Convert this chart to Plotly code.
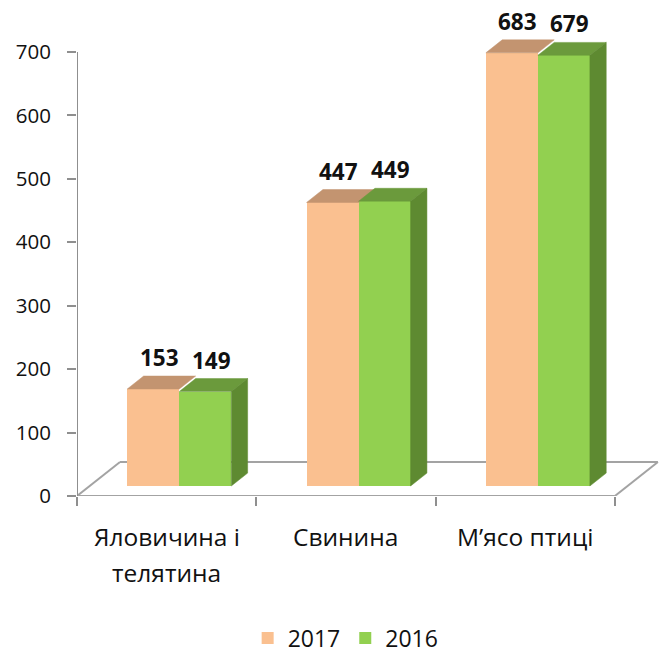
import plotly.graph_objects as go

# ---------------- data ----------------
categories = [["Яловичина і", "телятина"], ["Свинина"], ["М’ясо птиці"]]
series_names = ["2017", "2016"]
values_2017 = [153, 447, 683]
values_2016 = [149, 449, 679]
y_tick_values = [0, 100, 200, 300, 400, 500, 600, 700]

# ---------------- styles ----------------
FRONT = {"2017": "#FAC090", "2016": "#92D050"}
TOP = {"2017": "#C39470", "2016": "#6B9A3C"}
SIDE = {"2017": "#B07E58", "2016": "#5E8A31"}
GRID_GRAY = "#A3A3A3"
AXIS_GRAY = "#8F8F8F"
FONT = "Open Sans"
TXT = "#111111"

# pseudo-3D geometry (in axis units)
PX_X = 179.3            # px per category
PX_Y = 444.0 / 700.0    # px per value unit
FDX = 43.0 / PX_X       # floor depth, x units
FDY = 34.0 / PX_Y       # floor depth, y units
BAR_FRONT = 0.294       # bar front plane (fraction of floor depth)
BAR_DEPTH = 0.38        # bar depth (fraction of floor depth)
BAR_W = 52.0 / PX_X

base = BAR_FRONT * FDY
shift = BAR_FRONT * FDX
ddx = BAR_DEPTH * FDX
ddy = BAR_DEPTH * FDY

fig = go.Figure()

series = [("2017", values_2017, -0.5), ("2016", values_2016, 0.5)]
centers = {}
for name, vals, side in series:
    xs = [i + 0.5 + shift + side * BAR_W for i in range(len(vals))]
    centers[name] = xs
    fig.add_trace(go.Bar(
        x=xs, y=vals, base=[base] * len(vals), width=BAR_W, name=name,
        marker=dict(color=FRONT[name], line=dict(width=0)),
        hoverinfo="skip",
    ))

# top faces (orange then green) and right side faces of the green bars
for name, vals, side in series:
    for xc, v in zip(centers[name], vals):
        xl, xr = xc - BAR_W / 2, xc + BAR_W / 2
        top = base + v
        fig.add_trace(go.Scatter(
            x=[xl, xr, xr + ddx, xl + ddx, xl],
            y=[top, top, top + ddy, top + ddy, top],
            mode="lines", fill="toself", fillcolor=TOP[name],
            line=dict(color=TOP[name], width=0.5),
            showlegend=False, hoverinfo="skip"))
for xc, v in zip(centers["2016"], values_2016):
    xr = xc + BAR_W / 2
    top = base + v
    fig.add_trace(go.Scatter(
        x=[xr, xr + ddx, xr + ddx, xr, xr],
        y=[base, base + ddy, top + ddy, top, base],
        mode="lines", fill="toself", fillcolor=SIDE["2016"],
        line=dict(color=SIDE["2016"], width=0.5),
        showlegend=False, hoverinfo="skip"))

# value labels
for name, vals, side in series:
    for xc, v in zip(centers[name], vals):
        fig.add_annotation(
            x=xc + ddx * 0.35, y=base + v + ddy, text=f"<b>{v}</b>",
            showarrow=False, xanchor="center", yanchor="bottom", yshift=1,
            font=dict(family=FONT, size=22.5, color=TXT))

# category labels (one annotation per line, Excel-like line spacing)
for i, lines in enumerate(categories):
    for j, line in enumerate(lines):
        fig.add_annotation(
            x=i + 0.5, y=0, xref="x", yref="y", text=line, showarrow=False,
            xanchor="center", yanchor="middle", yshift=-40 - 36 * j,
            font=dict(family=FONT, size=24.5, color=TXT))

# floor outline and value axis line
n = len(categories)
floor_lines = [
    (0, 0, n, 0),
    (n, 0, n + FDX, FDY),
    (FDX, FDY, n + FDX, FDY),
    (0, 0, FDX, FDY),
]
for x0, y0, x1, y1 in floor_lines:
    fig.add_shape(type="line", xref="x", yref="y", x0=x0, y0=y0, x1=x1, y1=y1,
                  line=dict(color=GRID_GRAY, width=2), layer="below")
fig.add_shape(type="line", xref="x", yref="y", x0=0, y0=0, x1=0, y1=y_tick_values[-1],
              line=dict(color=AXIS_GRAY, width=2), layer="below")

W, H = 666, 653
left, right_edge, bottom_px, top_m = 77, 662, 496, 5
fig.update_layout(
    width=W, height=H,
    margin=dict(l=left, r=W - right_edge, t=top_m, b=H - bottom_px, pad=0),
    paper_bgcolor="white", plot_bgcolor="white",
    barmode="overlay", bargap=0,
    font=dict(family=FONT, color=TXT),
    showlegend=True,
    legend=dict(orientation="h", xref="container", yref="container",
                x=0.519, xanchor="center", y=1 - 638 / 653, yanchor="middle",
                font=dict(family=FONT, size=23, color=TXT),
                traceorder="normal"),
    xaxis=dict(
        range=[0, (right_edge - left) / PX_X],
        tickmode="array", tickvals=list(range(n + 1)),
        showticklabels=False,
        ticks="outside", ticklen=9, tickwidth=2, tickcolor=AXIS_GRAY,
        showline=False, showgrid=False, zeroline=False,
        automargin=False, fixedrange=True,
    ),
    yaxis=dict(
        range=[0, (bottom_px - top_m) / PX_Y],
        tickmode="array", tickvals=y_tick_values,
        ticks="outside", ticklen=9, tickwidth=2, tickcolor=AXIS_GRAY,
        showline=False, showgrid=False, zeroline=False,
        tickfont=dict(family=FONT, size=20.5, color=TXT),
        ticklabelstandoff=12,
        automargin=False, fixedrange=True,
    ),
)

fig.write_html("out.html", config={"displayModeBar": False},
               post_script="document.body.style.margin='0';")
